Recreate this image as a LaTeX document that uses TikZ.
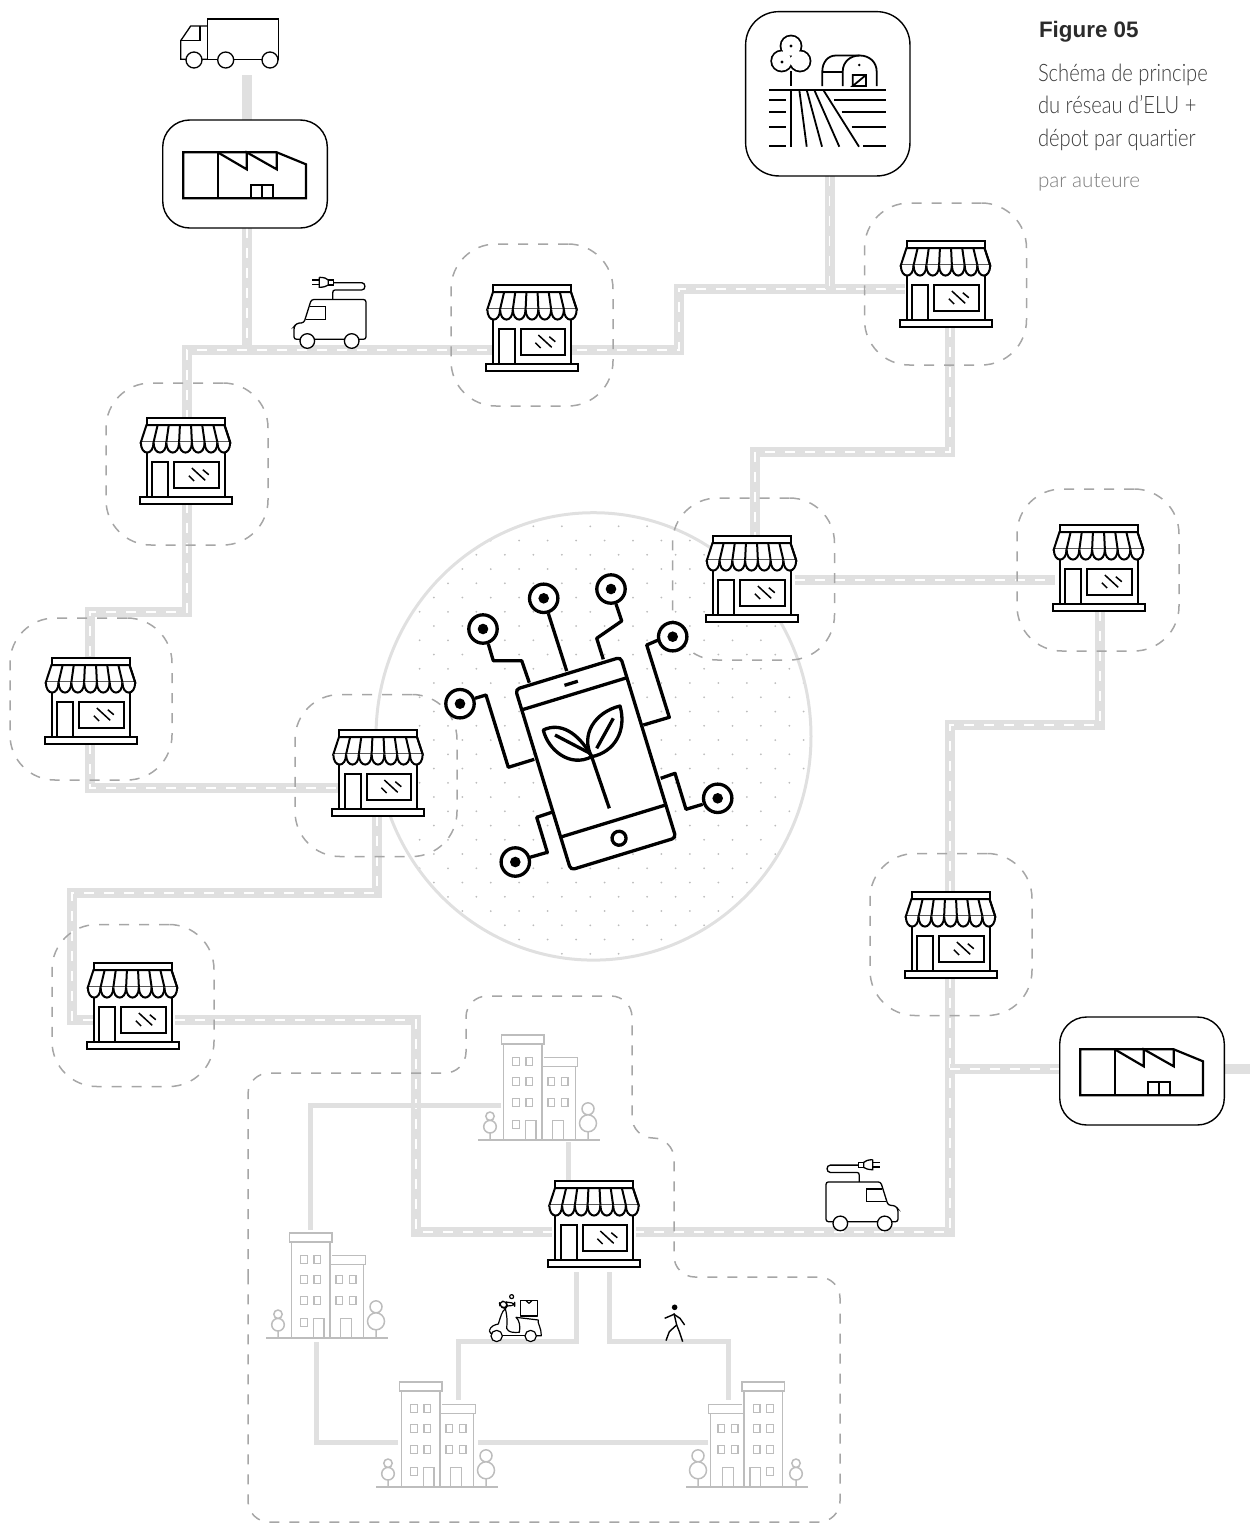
\documentclass[tikz,border=0pt]{standalone}
\usepackage{fontspec}
\setmainfont{Liberation Sans}
\newfontfamily\capfont[FakeStretch=0.84, Ligatures=NoCommon]{Lato Light}
\newfontfamily\srcfont[Ligatures=NoCommon]{Lato Light}
\usepackage{tikz}
\usetikzlibrary{arrows.meta}

\definecolor{roadgray}{HTML}{E0E0E0}
\definecolor{zonegray}{HTML}{A6A6A6}
\definecolor{citygray}{HTML}{BDBDBD}
\definecolor{dotgray}{HTML}{BCBCBC}
\definecolor{titlegray}{HTML}{2B2B2B}
\definecolor{textgray}{HTML}{3C3C3C}
\definecolor{sourcegray}{HTML}{7C7C7C}

\tikzset{
  roadbed/.style={draw=roadgray, line width=10pt, miter limit=10},
  road/.style={draw=white, line width=1.6pt, dash pattern=on 10pt off 10pt,
    preaction={draw=roadgray, solid, line width=10pt}},
  lane/.style={draw=roadgray, line width=5pt},
  zone/.style={draw=zonegray, line width=1.5pt, dash pattern=on 10pt off 10pt},
  depotzone/.style={zone, rectangle, rounded corners=45pt, minimum size=162pt, inner sep=0pt},
  iconbox/.style={draw=black, fill=white, line width=1.4pt, rectangle, inner sep=0pt},
  shopicon/.pic={
    % Base and walls
    \draw[fill=white] (-39,-62) rectangle (39,-7);
    \draw[fill=white] (-46,-7) rectangle (46,0);
    % Door and window
    \draw (-33.3,-7) -- (-33.3,-41.7) -- (-17.3,-41.7) -- (-17.3,-7);
    \draw (-11.3,-41.7) rectangle (33.3,-16.3);
    \draw[line width=1.5pt] (6.3,-36) -- (19.7,-23.7) (17.3,-34.3) -- (23.3,-29.3) (3.3,-28.3) -- (8.7,-23);
    % Awning
    \draw[fill=white] (-39,-79) -- (-44.7,-61.7) -- (44.7,-61.7) -- (39,-79) -- cycle;
    \foreach \i in {0,...,6} {
      \pgfmathsetmacro{\xa}{-44.7+12.77*\i}
      \pgfmathsetmacro{\xb}{\xa+12.77}
      \pgfmathsetmacro{\xt}{-39+11.14*\i}
      \pgfmathsetmacro{\xu}{\xt+11.14}
      \draw[fill=white] (\xa,-61.7) .. controls (\xa,-48) and (\xb,-48) .. (\xb,-61.7);
      \draw (\xu,-79) -- (\xb,-61.7);
    }
    % Fascia
    \draw[fill=white] (-39,-85.7) rectangle (39,-79);
  },
  factoryicon/.pic={
    \draw[line width=2.2pt, line join=miter] (-61.7,-21.7) -- (-61.7,24.3) -- (61,24.3) -- (61,-9.7) -- (31.7,-21.7) -- cycle;
    \draw[line width=2.2pt] (-27.3,-21.7) -- (-27.3,24.3);
    \draw[line width=2.2pt] (-27.3,-21.7) -- (1.7,-4.7) -- (1.7,-21.7) -- (31.7,-4.7) -- (31.7,-21.7);
    \draw[line width=1.8pt] (6,24.3) -- (6,11) -- (27.7,11) -- (27.7,24.3) (16.7,11) -- (16.7,24.3);
  },
  vanicon/.pic={
    \draw[rounded corners=2.5pt, fill=white] (-36,-0.7) -- (-36,-13.3) -- (-33.3,-16.7) -- (-26,-17.3) -- (-18.7,-40.5) -- (36,-40.5) -- (36,-0.7) -- cycle;
    \draw (-20,-33.3) -- (-4.3,-33.3) -- (-4.3,-20.7) -- (-24,-20.7);
    \draw[fill=white] (-22.7,1) circle (7.3);
    \draw[fill=white] (21.7,1) circle (7.3);
    % Cable and plug
    \draw (2.7,-40.5) -- (2.7,-47) .. controls (2.7,-49) and (3.5,-50) .. (5,-50) -- (31.7,-50) .. controls (36,-50) and (36,-57.3) .. (31.7,-57.3) -- (3.3,-57.3);
    \draw (-1.7,-60) rectangle (3.3,-55);
    \draw (-10.7,-62.7) -- (-10.7,-52.7) .. controls (-6,-52.7) and (-3,-54) .. (-1.7,-55) -- (-1.7,-60) .. controls (-3,-61.5) and (-6,-62.7) .. (-10.7,-62.7);
    \draw (-17.7,-60) -- (-10.7,-60) (-17.7,-55.5) -- (-10.7,-55.5);
  },
  blockicon/.pic={
    \draw[citygray] (-61,0) -- (61,0);
    % Towers
    \draw[citygray] (-35.7,0) -- (-35.7,-96) (3,-96) -- (3,0) (3,-73.3) (36.3,-73.3) -- (36.3,0);
    \draw[citygray] (-37.3,-105) rectangle (5,-96);
    \draw[citygray] (5,-82.7) -- (38.3,-82.7) -- (38.3,-73.3) -- (3,-73.3);
    % Windows
    \foreach \x in {-26.3,-13} \foreach \y in {-82.7,-62.7,-41.7} \draw[citygray] (\x,\y) rectangle +(6.7,8);
    \draw[citygray] (-26.3,-19.3) rectangle +(6.7,8);
    \foreach \x in {9,22.3} \foreach \y in {-62.7,-41.7} \draw[citygray] (\x,\y) rectangle +(6.7,8);
    % Doors
    \draw[citygray] (-13.7,0) -- (-13.7,-19.3) -- (-3,-19.3) -- (-3,0);
    \draw[citygray] (13.7,0) -- (13.7,-19.3) -- (24.3,-19.3) -- (24.3,0);
    % Trees
    \draw[citygray] (-49,0) -- (-49,-7) (-49,-13.3) circle (6.3) (-49,-23.8) circle (4.2);
    \draw[citygray] (49,0) -- (49,-8) (49,-16.7) circle (8.5) (49,-31.2) circle (6);
  },
}

\begin{document}
\begin{tikzpicture}[x=1pt, y=-1pt, line width=2pt]
  \useasboundingbox (0,0) rectangle (1250,1524);

  % Dotted disc
  \draw[roadgray, line width=3pt] (593.5,736.4) ellipse [x radius=217.5, y radius=223.7];
  \begin{scope}
    \clip (593.5,736.4) ellipse [x radius=216, y radius=222];
    \foreach \r in {-4,...,27} {
      \pgfmathsetmacro{\rowy}{569+14.25*\r}
      \pgfmathsetmacro{\rowx}{iseven(\r) ? 462.3 : 448}
      \foreach \k in {-1,...,13}
        \fill[dotgray] ({\rowx+28.45*\k},\rowy) circle (1);
    }
  \end{scope}

  % Road points
  \coordinate (truckDock) at (247,75);   \coordinate (millNorth) at (247,120);
  \coordinate (millSouth) at (247,228);  \coordinate (crossTop) at (247,350);
  \coordinate (stopCn) at (187,420);     \coordinate (bendCn) at (187,350);
  \coordinate (bendAe) at (679,350);     \coordinate (bendAn) at (679,289);
  \coordinate (stopBw) at (905,289);     \coordinate (farmSouth) at (829.5,176);
  \coordinate (farmJoin) at (829.5,289);
  \coordinate (stopBs) at (950,327);     \coordinate (bendBs) at (950,452);
  \coordinate (bendFn) at (755,452);     \coordinate (stopFn) at (755,540);
  \coordinate (stopFe) at (795,580);     \coordinate (stopGw) at (1055,580);
  \coordinate (stopGs) at (1100,611);    \coordinate (bendGs) at (1100,725);
  \coordinate (bendHn) at (950,725);     \coordinate (stopHn) at (950,895);
  \coordinate (stopHs) at (950,978);     \coordinate (bendSE) at (950,1232);
  \coordinate (stopJe) at (636,1232);    \coordinate (crossMill) at (950,1069);
  \coordinate (millWest) at (1062,1069); \coordinate (millEast) at (1223,1069);
  \coordinate (edgeEast) at (1250,1069);
  \coordinate (stopCs) at (187,503);     \coordinate (bendCs) at (187,612);
  \coordinate (bendDn) at (90,612);      \coordinate (stopDn) at (90,660);
  \coordinate (stopDs) at (90,744);      \coordinate (bendDs) at (90,788);
  \coordinate (stopEw) at (338,788);     \coordinate (stopEs) at (377,816);
  \coordinate (bendEs) at (377,893);     \coordinate (bendIn) at (72,893);
  \coordinate (bendIw) at (72,1020);     \coordinate (stopIw) at (95,1020);
  \coordinate (stopIe) at (175,1020);    \coordinate (bendIe) at (416,1020);
  \coordinate (bendJw) at (416,1232);    \coordinate (stopJw) at (552,1232);

  % Roads
  \draw[roadbed] (truckDock) -- (millNorth);
  \draw[road] (millSouth) -- (crossTop);
  \draw[road] (stopCn) -- (bendCn) -- (bendAe) -- (bendAn) -- (stopBw);
  \draw[road] (farmSouth) -- (farmJoin);
  \draw[road] (stopBs) -- (bendBs) -- (bendFn) -- (stopFn);
  \draw[road] (stopFe) -- (stopGw);
  \draw[road] (stopGs) -- (bendGs) -- (bendHn) -- (stopHn);
  \draw[road] (stopHs) -- (bendSE) -- (stopJe);
  \draw[road] (crossMill) -- (millWest);
  \draw[roadbed] (millEast) -- (edgeEast);
  \draw[road] (stopCs) -- (bendCs) -- (bendDn) -- (stopDn);
  \draw[road] (stopDs) -- (bendDs) -- (stopEw);
  \draw[road] (stopEs) -- (bendEs) -- (bendIn) -- (bendIw) -- (stopIw);
  \draw[road] (stopIe) -- (bendIe) -- (bendJw) -- (stopJw);

  % Lanes of the quarter
  \coordinate (blockNw) at (501,1105);  \coordinate (laneNw) at (310,1105);
  \coordinate (blockWn) at (310,1230);  \coordinate (blockWs) at (316,1342);
  \coordinate (laneSw) at (316,1442);   \coordinate (blockMw) at (398,1442);
  \coordinate (blockMe) at (478,1442);  \coordinate (blockRw) at (708,1442);
  \coordinate (blockNs) at (568,1142);  \coordinate (shopJn) at (568,1182);
  \coordinate (shopJa) at (576.5,1272); \coordinate (laneA) at (576.5,1341.5);
  \coordinate (laneB) at (458,1341.5);  \coordinate (blockMn) at (458,1400);
  \coordinate (shopJb) at (609.5,1272); \coordinate (laneC) at (609.5,1341.5);
  \coordinate (laneD) at (728,1341.5);  \coordinate (blockRn) at (728,1400);
  \draw[lane] (blockNw) -- (laneNw) -- (blockWn);
  \draw[lane] (blockWs) -- (laneSw) -- (blockMw);
  \draw[lane] (blockMe) -- (blockRw);
  \draw[lane] (blockNs) -- (shopJn);
  \draw[lane] (shopJa) -- (laneA) -- (laneB) -- (blockMn);
  \draw[lane] (shopJb) -- (laneC) -- (laneD) -- (blockRn);

  % Zones around the shops
  \node[depotzone] (zoneA) at (532,325) {};
  \node[depotzone] (zoneB) at (945.5,284) {};
  \node[depotzone] (zoneC) at (187,464) {};
  \node[depotzone] (zoneD) at (91,699) {};
  \node[depotzone] (zoneE) at (376,775.5) {};
  \node[depotzone] (zoneF) at (753.5,579) {};
  \node[depotzone] (zoneG) at (1098,570) {};
  \node[depotzone] (zoneH) at (951,934.5) {};
  \node[depotzone] (zoneI) at (133,1005.5) {};
  % Zone of the quarter
  \draw[zone, rounded corners=21pt] (248,1300) -- (248,1073) -- (466,1073) -- (466,996) -- (632,996) -- (632,1138) -- (674,1138) -- (674,1277) -- (840,1277) -- (840,1522) -- (248,1522) -- cycle;

  % Shops
  \pic at (532,371) {shopicon};
  \pic at (945.5,327) {shopicon};
  \pic at (185.5,504) {shopicon};
  \pic at (90.5,744) {shopicon};
  \pic at (378,816) {shopicon};
  \pic at (751.5,622) {shopicon};
  \pic at (1098.5,611) {shopicon};
  \pic at (950.5,978) {shopicon};
  \pic at (132.5,1049) {shopicon};
  \pic at (594,1267) {shopicon};

  % Factories
  \node[iconbox, rounded corners=27pt, minimum width=164.6pt, minimum height=108pt] (millA) at (245,174) {};
  \pic at (245,174) {factoryicon};
  \node[iconbox, rounded corners=27pt, minimum width=164.6pt, minimum height=108pt] (millB) at (1142,1071) {};
  \pic at (1142,1071) {factoryicon};

  % Apartment blocks
  \pic[line width=1.5pt] at (539,1140) {blockicon};
  \pic[line width=1.5pt] at (327,1338) {blockicon};
  \pic[line width=1.5pt] at (437,1487) {blockicon};
  \pic[line width=1.5pt, xscale=-1] at (747,1487) {blockicon};

  % Vans
  \pic[line width=1.3pt] at (330,340) {vanicon};
  \pic[line width=1.3pt, xscale=-1] at (862,1222.4) {vanicon};

  % Truck
  \begin{scope}[line width=1.3pt]
    \draw (207.3,59.3) -- (207.3,19) -- (278.7,19) -- (278.7,59.3) -- cycle;
    \draw (207.3,26) -- (190.7,26) -- (180.7,40.7) -- (180.7,59.3) -- (207.3,59.3);
    \draw (200,26) -- (200,40.7) -- (180.7,40.7);
    \draw[fill=white] (194,60) circle (8);
    \draw[fill=white] (225.7,60) circle (8);
    \draw[fill=white] (270,60) circle (8);
  \end{scope}

  % Farm
  \node[iconbox, rounded corners=33pt, minimum size=164.3pt] (farm) at (827.8,93.8) {};
  \begin{scope}[line width=1.8pt]
    % Tree
    \fill (791,46) circle (11.4) (781.7,61) circle (11.4) (800,61) circle (11.4);
    \fill[white] (791,46) circle (9.6) (781.7,61) circle (9.6) (800,61) circle (9.6);
    \fill (791,46) circle (1.6) (782,62) circle (1.6);
    \draw (791,71) -- (791,86);
    % Field
    \draw (769.3,90) -- (885.7,90);
    \draw (791,90) -- (791,146.7);
    \foreach \y in {99.7,112,126.7,145.7} \draw (769.3,\y) -- (786,\y);
    \draw (834,99.7) -- (885.7,99.7) (841.7,112) -- (885.7,112) (851.7,126.7) -- (885.7,126.7) (863.3,145.7) -- (885.7,145.7);
    \draw (799.3,90) -- (806.7,146.7) (806.7,90) -- (822,146.7) (814.3,90) -- (839.3,146.7) (823.3,90) -- (859,146.7);
    % Barn
    \draw (822.3,86) -- (822.3,71.7) .. controls (822.3,62) and (828,55.5) .. (836,55.5) -- (859.7,55.5);
    \draw (842.7,86) -- (842.7,71.7) .. controls (842.7,62) and (850,55.5) .. (859.7,55.5) .. controls (869.4,55.5) and (876.7,62) .. (876.7,71.7) -- (876.7,86);
    \draw (822.3,71.7) -- (842.7,71.7);
    \fill (859.3,65) circle (1.4);
    \draw (852.7,86) -- (852.7,75) -- (866,75) -- (866,86) -- (852.7,86) -- (866,75);
  \end{scope}

  % Scooter
  \begin{scope}[shift={(470,1020)}, scale=0.3333, line width=1.2pt, line join=round]
    \draw (152,842) rectangle (203,888);
    \draw (168,842) -- (177,850) -- (186,842);
    \draw (58,932) .. controls (62,918) and (75,914) .. (85,912) .. controls (92,890) and (95,875) .. (106,866) .. controls (112,890) and (112,905) .. (110,925) .. controls (115,938) and (130,938) .. (148,937) .. controls (152,920) and (148,900) .. (138,892) -- (205,900) .. controls (200,905) and (215,925) .. (214,947) -- (196,947);
    \draw (58,932) -- (62,940) -- (66,940);
    \draw (97,947) -- (165,947);
    \draw[fill=white] (80,948) circle (17);
    \draw[fill=white] (182,948) circle (17);
    \draw[rounded corners=4pt] (106,866) -- (90,860) -- (88,846) -- (108,842) -- (112,858) -- cycle;
    \draw[rounded corners=3pt] (108,846) -- (134,850) -- (134,856) -- (112,858);
    \draw (125,830) circle (6);
  \end{scope}

  % Walker
  \begin{scope}[shift={(470,1020)}, scale=0.3333, line width=1.4pt, line join=round]
    \fill (614,862) circle (8.5);
    \draw (612,880) -- (620,915);
    \draw (620,915) -- (598,935) -- (588,962);
    \draw (620,915) -- (628,935) -- (638,965);
    \draw (584,895) -- (612,883) -- (630,895) -- (644,915);
  \end{scope}

  % Phone
  \begin{scope}[shift={(595.7,763.6)}, rotate=17, line width=3.3pt]
    \draw[fill=white, rounded corners=4pt] (-55,-94.4) rectangle (55,94.4);
    \draw (-55,-73) -- (55,-73);
    \draw (-55,60) -- (55,60);
    \draw (-7,-84) -- (7,-84);
    \draw (0.5,78.2) circle (7);
  \end{scope}

  % Plant
  \begin{scope}[line width=3.3pt]
    \draw (591.7,756.7) -- (609.3,808.3);
    \draw[line join=round] (591.7,756.7) .. controls (578,732) and (560,722) .. (543.3,730) .. controls (548,750) and (570,768) .. (591.7,756.7);
    \draw[line join=round] (591.7,756.7) .. controls (580,735) and (595,712) .. (620,706) .. controls (627,730) and (615,752) .. (591.7,756.7);
    \draw (555,735) -- (590,753.3);
    \draw (613.3,718.3) -- (596.7,748.3);
  \end{scope}

  % Circuit traces
  \begin{scope}[line width=3.3pt, line join=round]
    \draw (488.3,644) -- (493.3,660.7) -- (521.7,660.7) -- (529.3,682.7);
    \draw (548.3,613.3) -- (566.7,671);
    \draw (616,604) -- (621.7,621) -- (596.7,638.3) -- (603.3,659.3);
    \draw (658.3,640) -- (646.7,645) -- (669.3,717.3) -- (643.3,725);
    \draw (475,698.3) -- (486,695) -- (508.3,767.3) -- (534.3,759.3);
    \draw (530,857.3) -- (547.3,852.3) -- (536.7,817.3) -- (551.7,812.3);
    \draw (702.7,804.3) -- (686,809.3) -- (675,773.3) -- (660.7,778.3);
    \foreach \x/\y in {483/629, 543.7/598.3, 611/589, 672.7/636.7, 460/703.7, 515.3/862, 717.7/798.3} {
      \draw[fill=white] (\x,\y) circle (14.2);
      \fill (\x,\y) circle (5.3);
    }
  \end{scope}

  % Caption
  \node[anchor=base west, inner sep=0pt, text=titlegray, font=\fontsize{22.4}{26}\selectfont\bfseries] (title) at (1038,37) {Figure 05};
  \node[anchor=base west, inner sep=0pt, align=left, text=textgray, font=\capfont\fontsize{24}{32.5}\selectfont] (caption) at (1037,146) {Schéma de principe\\du réseau d’ELU +\\dépot par quartier};
  \node[anchor=base west, inner sep=0pt, text=sourcegray, font=\srcfont\fontsize{20.6}{24}\selectfont] (source) at (1037,187) {par auteure};
\end{tikzpicture}
\end{document}
